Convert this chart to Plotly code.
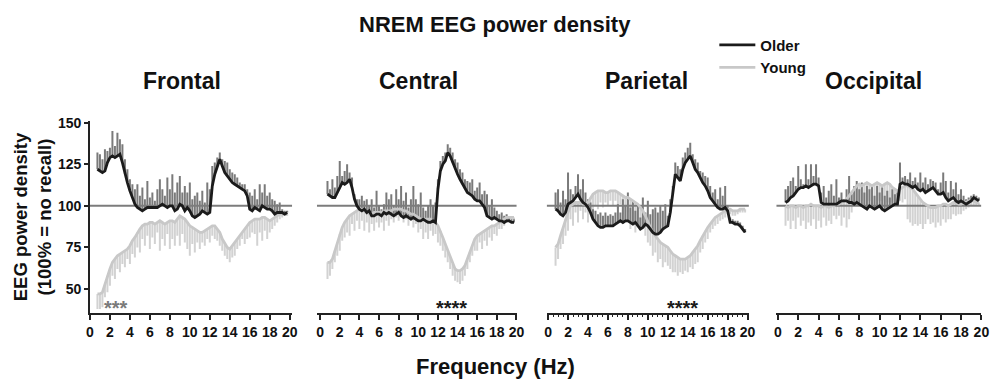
import numpy as np
import plotly.graph_objects as go

# ---------------------------------------------------------------------------
# Relative NREM EEG power density (% of the no-recall condition), 0.25 Hz bins
# ---------------------------------------------------------------------------
FREQ_HZ = np.arange(0.75, 19.76, 0.25)

REGIONS = ["Frontal", "Central", "Parietal", "Occipital"]

# Frontal
FRONTAL_OLDER = [
    122,
    121, 120, 121, 126,
    129, 130, 129, 130,
    131, 126, 119, 114,
    109, 105, 101, 99,
    98, 97, 98, 99,
    99, 99, 99, 99,
    100, 101, 100, 99,
    100, 100, 97, 98,
    101, 100, 97, 99,
    97, 94, 93, 94,
    95, 97, 96, 95,
    96, 112, 119, 124,
    128, 124, 120, 118,
    116, 114, 113, 112,
    111, 110, 109, 106,
    98, 97, 99, 98,
    97, 100, 99, 98,
    98, 97, 95, 96,
    96, 96, 95, 96,
]
FRONTAL_OLDER_SEM = [
    10,
    10, 8, 13, 7,
    6, 15, 7, 14,
    9, 11, 9, 8,
    7, 8, 9, 14,
    8, 14, 6, 16,
    6, 9, 4, 11,
    16, 9, 6, 18,
    10, 19, 11, 16,
    17, 8, 15, 9,
    17, 10, 13, 14,
    8, 12, 6, 19,
    14, 12, 7, 5,
    4, 4, 7, 8,
    6, 6, 6, 5,
    3, 3, 4, 4,
    10, 9, 11, 6,
    16, 8, 14, 8,
    10, 7, 8, 5,
    6, 2, 2, 1,
]
FRONTAL_YOUNG = [
    47,
    47, 48, 53, 58,
    62, 66, 68, 70,
    71, 72, 73, 74,
    76, 79, 81, 84,
    86, 88, 89, 89,
    90, 90, 89, 90,
    91, 90, 89, 90,
    91, 91, 90, 92,
    94, 93, 92, 90,
    88, 87, 86, 85,
    84, 84, 85, 86,
    87, 88, 88, 86,
    84, 80, 77, 75,
    74, 76, 78, 80,
    82, 84, 86, 88,
    90, 91, 92, 92,
    92, 93, 93, 92,
    91, 92, 93, 94,
    95, 95, 95, 95,
]
FRONTAL_YOUNG_SEM = [
    9,
    9, 9, 8, 10,
    10, 8, 12, 8,
    11, 7, 10, 6,
    11, 8, 12, 9,
    14, 8, 13, 7,
    16, 9, 12, 6,
    18, 10, 13, 7,
    17, 11, 14, 10,
    18, 10, 14, 16,
    18, 10, 14, 7,
    10, 6, 9, 6,
    9, 6, 8, 7,
    8, 7, 7, 7,
    8, 7, 8, 6,
    6, 4, 9, 8,
    9, 7, 9, 16,
    8, 14, 8, 12,
    7, 6, 5, 4,
    3, 2, 1, 1,
]

# Central
CENTRAL_OLDER = [
    107,
    106, 105, 105, 108,
    112, 114, 113, 114,
    116, 111, 104, 100,
    98, 97, 98, 96,
    97, 94, 94, 95,
    95, 94, 96, 95,
    96, 95, 94, 95,
    96, 94, 93, 94,
    93, 92, 93, 92,
    91, 91, 92, 91,
    90, 90, 91, 90,
    110, 121, 125, 127,
    132, 130, 126, 122,
    119, 116, 113, 110,
    108, 107, 106, 104,
    103, 103, 101, 99,
    94, 93, 92, 93,
    92, 91, 91, 90,
    91, 91, 90, 90,
]
CENTRAL_OLDER_SEM = [
    8,
    4, 11, 6, 10,
    15, 4, 8, 11,
    4, 6, 3, 4,
    6, 9, 5, 8,
    3, 10, 5, 14,
    5, 4, 5, 13,
    8, 12, 6, 15,
    8, 18, 10, 14,
    6, 12, 19, 12,
    10, 17, 7, 6,
    10, 14, 9, 12,
    6, 6, 5, 5,
    5, 5, 6, 6,
    7, 6, 7, 6,
    7, 7, 10, 5,
    8, 11, 6, 10,
    13, 7, 12, 6,
    5, 4, 5, 4,
    4, 2, 2, 2,
]
CENTRAL_YOUNG = [
    66,
    66, 68, 73, 78,
    83, 87, 90, 92,
    94, 95, 96, 97,
    98, 98, 97, 96,
    95, 95, 96, 96,
    96, 96, 97, 97,
    97, 97, 98, 98,
    98, 98, 97, 97,
    96, 95, 95, 94,
    93, 92, 92, 92,
    92, 92, 91, 90,
    88, 85, 81, 77,
    73, 69, 65, 62,
    61, 61, 62, 64,
    68, 72, 76, 80,
    82, 83, 84, 85,
    86, 87, 88, 88,
    89, 90, 91, 92,
    93, 93, 93, 93,
]
CENTRAL_YOUNG_SEM = [
    10,
    8, 6, 7, 8,
    10, 8, 9, 8,
    12, 6, 11, 6,
    12, 7, 12, 6,
    11, 6, 11, 6,
    9, 6, 12, 6,
    9, 5, 8, 5,
    7, 5, 7, 5,
    8, 4, 8, 5,
    9, 6, 12, 8,
    12, 7, 9, 7,
    10, 9, 8, 8,
    7, 7, 7, 7,
    7, 8, 7, 6,
    6, 6, 6, 7,
    9, 5, 10, 6,
    10, 6, 9, 5,
    7, 4, 5, 4,
    3, 2, 1, 1,
]

# Parietal
PARIETAL_OLDER = [
    98,
    97, 95, 94, 96,
    101, 102, 103, 105,
    107, 104, 102, 101,
    99, 96, 92, 90,
    88, 87, 87, 88,
    88, 88, 88, 89,
    90, 91, 90, 91,
    91, 90, 89, 90,
    88, 86, 87, 89,
    88, 86, 84, 83,
    83, 84, 86, 87,
    88, 96, 107, 119,
    117, 115, 122, 126,
    128, 130, 126, 122,
    120, 117, 114, 112,
    109, 105, 103, 101,
    99, 98, 98, 99,
    97, 90, 90, 89,
    89, 88, 86, 84,
]
PARIETAL_OLDER_SEM = [
    10,
    13, 7, 15, 8,
    19, 8, 4, 7,
    12, 6, 14, 7,
    5, 6, 6, 7,
    7, 9, 7, 8,
    6, 7, 6, 7,
    11, 5, 14, 9,
    17, 9, 14, 7,
    13, 7, 18, 7,
    15, 9, 14, 16,
    13, 16, 11, 14,
    6, 8, 5, 7,
    7, 7, 7, 6,
    7, 8, 5, 6,
    6, 4, 6, 6,
    8, 7, 5, 9,
    5, 13, 8, 13,
    3, 3, 2, 2,
    2, 2, 2, 2,
]
PARIETAL_YOUNG = [
    75,
    77, 82, 87, 92,
    96, 100, 101, 102,
    102, 102, 101, 101,
    102, 105, 107, 108,
    109, 109, 109, 108,
    108, 109, 109, 109,
    108, 107, 106, 105,
    105, 104, 103, 102,
    101, 99, 97, 94,
    90, 87, 84, 82,
    80, 78, 77, 76,
    75, 73, 71, 70,
    69, 68, 68, 68,
    69, 70, 72, 74,
    76, 79, 82, 85,
    87, 89, 91, 93,
    94, 95, 96, 97,
    98, 98, 97, 97,
    97, 98, 98, 98,
]
PARIETAL_YOUNG_SEM = [
    11,
    9, 8, 10, 10,
    11, 8, 13, 6,
    12, 5, 9, 5,
    12, 7, 11, 8,
    11, 7, 10, 6,
    8, 6, 9, 6,
    10, 6, 11, 13,
    9, 18, 13, 18,
    9, 13, 9, 12,
    12, 11, 14, 10,
    14, 10, 14, 10,
    11, 11, 11, 10,
    11, 8, 9, 7,
    9, 7, 10, 9,
    10, 7, 8, 7,
    7, 5, 5, 5,
    5, 4, 4, 4,
    3, 3, 3, 3,
    2, 2, 2, 2,
]

# Occipital
OCCIPITAL_OLDER = [
    102,
    103, 105, 106, 108,
    110, 111, 111, 112,
    111, 112, 113, 113,
    112, 102, 101, 101,
    101, 101, 101, 101,
    102, 103, 103, 103,
    102, 102, 101, 102,
    101, 100, 99, 98,
    100, 99, 98, 99,
    100, 98, 97, 98,
    99, 100, 101, 101,
    113, 114, 113, 113,
    112, 111, 112, 110,
    109, 110, 108, 109,
    110, 111, 109, 107,
    107, 108, 105, 103,
    104, 105, 103, 102,
    103, 102, 101, 102,
    103, 105, 104, 103,
]
OCCIPITAL_OLDER_SEM = [
    8,
    9, 10, 11, 4,
    14, 5, 2, 13,
    5, 13, 5, 12,
    5, 6, 11, 4,
    8, 12, 5, 15,
    3, 5, 1, 7,
    16, 5, 11, 13,
    9, 14, 9, 14,
    10, 14, 8, 13,
    8, 13, 9, 11,
    6, 10, 6, 7,
    13, 3, 5, 3,
    8, 4, 5, 4,
    11, 4, 9, 4,
    6, 4, 5, 3,
    7, 12, 10, 5,
    11, 5, 11, 5,
    7, 4, 3, 3,
    3, 2, 2, 2,
]
OCCIPITAL_YOUNG = [
    100,
    99, 100, 100, 99,
    100, 100, 99, 100,
    100, 101, 100, 100,
    100, 99, 100, 100,
    99, 100, 100, 101,
    101, 102, 103, 104,
    106, 108, 110, 112,
    113, 112, 113, 114,
    113, 112, 113, 114,
    113, 112, 113, 114,
    113, 111, 110, 109,
    110, 111, 112, 112,
    111, 110, 108, 106,
    104, 102, 101, 100,
    99, 99, 99, 100,
    100, 101, 101, 100,
    101, 102, 102, 101,
    101, 102, 102, 103,
    103, 103, 102, 102,
]
OCCIPITAL_YOUNG_SEM = [
    12,
    8, 14, 9, 13,
    7, 12, 8, 14,
    10, 13, 8, 14,
    9, 12, 7, 12,
    8, 11, 6, 9,
    7, 14, 10, 17,
    14, 12, 10, 11,
    12, 9, 12, 11,
    10, 9, 12, 11,
    10, 9, 12, 12,
    11, 9, 10, 8,
    7, 9, 8, 20,
    21, 22, 19, 18,
    15, 16, 12, 8,
    10, 9, 12, 10,
    12, 9, 11, 8,
    9, 7, 8, 6,
    6, 5, 4, 4,
    3, 3, 2, 2,
]

BASELINE = 100  # 100 % = no-recall condition

# significance markers: (panel index, text, frequency, level, colour)
SIGNIFICANCE = [
    (0, "***", 2.6, 38.5, "#7a7a7a"),
    (1, "****", 13.4, 38.5, "#1a1a1a"),
    (2, "****", 13.5, 38.5, "#1a1a1a"),
]

X_TICKS = list(range(0, 21, 2))
Y_TICKS = [50, 75, 100, 125, 150]

# ---------------------------------------------------------------------------
# Layout geometry (pixels of the 995 x 381 canvas)
# ---------------------------------------------------------------------------
W, H = 995, 381
PANEL_X_PX = [(87, 291.7), (316.7, 519), (549.3, 754), (781.7, 989.3)]
PANEL_X_RANGE = [(0, 20.25), (-0.33, 20.03), (-0.14, 20.13), (-0.16, 20.0)]
PANEL_TITLE_X_PX = [180, 420, 650, 880]
Y_PX = (116.7, 312)
Y_RANGE = (35.5, 151.1)

OLDER_LINE = "#1b1b1b"
OLDER_BAR = "#7a7a7a"
YOUNG_LINE = "#c8c8c8"
YOUNG_BAR = "#d2d2d2"
BASE_LINE = "#7c7c7c"
AXIS_COL = "#222222"
FONT = "Liberation Sans, Arial, Helvetica, sans-serif"


def fx(p):
    return p / W


def fy(p):
    return 1 - p / H


series = {
    "Frontal": (FRONTAL_OLDER, FRONTAL_OLDER_SEM, FRONTAL_YOUNG, FRONTAL_YOUNG_SEM),
    "Central": (CENTRAL_OLDER, CENTRAL_OLDER_SEM, CENTRAL_YOUNG, CENTRAL_YOUNG_SEM),
    "Parietal": (PARIETAL_OLDER, PARIETAL_OLDER_SEM, PARIETAL_YOUNG, PARIETAL_YOUNG_SEM),
    "Occipital": (OCCIPITAL_OLDER, OCCIPITAL_OLDER_SEM, OCCIPITAL_YOUNG, OCCIPITAL_YOUNG_SEM),
}
for name, arrs in series.items():
    for a in arrs:
        assert len(a) == len(FREQ_HZ), (name, len(a))

fig = go.Figure()
zeros = [0] * len(FREQ_HZ)

for i, region in enumerate(REGIONS):
    older, older_sem, young, young_sem = series[region]
    xa = "x" if i == 0 else f"x{i + 1}"
    ya = "y" if i == 0 else f"y{i + 1}"
    first = i == 0

    # young: SEM bars pointing down
    fig.add_trace(go.Scatter(
        x=FREQ_HZ, y=young, mode="markers", xaxis=xa, yaxis=ya,
        marker=dict(size=1, color="rgba(0,0,0,0)"), showlegend=False, hoverinfo="skip",
        error_y=dict(type="data", symmetric=False, array=zeros, arrayminus=young_sem,
                     color=YOUNG_BAR, thickness=2, width=0),
    ))
    # older: SEM bars pointing up
    fig.add_trace(go.Scatter(
        x=FREQ_HZ, y=older, mode="markers", xaxis=xa, yaxis=ya,
        marker=dict(size=1, color="rgba(0,0,0,0)"), showlegend=False, hoverinfo="skip",
        error_y=dict(type="data", symmetric=False, array=older_sem, arrayminus=zeros,
                     color=OLDER_BAR, thickness=2, width=0),
    ))
    # 100 % reference line
    fig.add_trace(go.Scatter(
        x=list(PANEL_X_RANGE[i]), y=[BASELINE, BASELINE], mode="lines", xaxis=xa, yaxis=ya,
        line=dict(color=BASE_LINE, width=2), showlegend=False, hoverinfo="skip",
    ))
    # group means
    fig.add_trace(go.Scatter(
        x=FREQ_HZ, y=young, mode="lines", xaxis=xa, yaxis=ya, name="Young",
        line=dict(color=YOUNG_LINE, width=2.8), showlegend=first, legendrank=2,
    ))
    fig.add_trace(go.Scatter(
        x=FREQ_HZ, y=older, mode="lines", xaxis=xa, yaxis=ya, name="Older",
        line=dict(color=OLDER_LINE, width=2.8), showlegend=first, legendrank=1,
    ))

layout = dict(
    width=W, height=H,
    margin=dict(l=0, r=0, t=0, b=0),
    paper_bgcolor="white", plot_bgcolor="rgba(0,0,0,0)",
    font=dict(family=FONT, color="#111111", size=14),
    legend=dict(x=fx(719), y=fy(23), xanchor="left", yanchor="top",
                bgcolor="rgba(0,0,0,0)", font=dict(size=15, family=FONT, weight="bold"),
                tracegroupgap=0, itemwidth=36, traceorder="normal"),
)

for i in range(4):
    sfx = "" if i == 0 else str(i + 1)
    x0, x1 = PANEL_X_PX[i]
    layout[f"xaxis{sfx}"] = dict(
        domain=[fx(x0), fx(x1)], range=list(PANEL_X_RANGE[i]), anchor=f"y{sfx}",
        showgrid=False, zeroline=False, showline=True, linecolor=AXIS_COL, linewidth=1.6,
        ticks="outside", ticklen=5, tickwidth=1.5, tickcolor=AXIS_COL,
        tickvals=X_TICKS, ticktext=[str(v) for v in X_TICKS],
        tickfont=dict(size=14, family=FONT, weight="bold", color="#111111"),
    )
    if i == 2:
        layout[f"xaxis{sfx}"]["minor"] = dict(dtick=0.5, ticklen=2, tickwidth=1,
                                              tickcolor=AXIS_COL, ticks="outside")
    ydict = dict(
        domain=[fy(Y_PX[1]), fy(Y_PX[0])], range=list(Y_RANGE), anchor=f"x{sfx}",
        showgrid=False, zeroline=False,
    )
    if i == 0:
        ydict.update(showline=True, linecolor=AXIS_COL, linewidth=1.6,
                     ticks="outside", ticklen=4, tickwidth=1.5, tickcolor=AXIS_COL,
                     tickvals=Y_TICKS, tickfont=dict(size=14, family=FONT, weight="bold",
                                                     color="#111111"))
    else:
        ydict.update(visible=False)
    layout[f"yaxis{sfx}"] = ydict

fig.update_layout(**layout)

annotations = [
    dict(text="NREM EEG power density", x=fx(497), y=fy(19), font=dict(size=22)),
    dict(text="Frequency (Hz)", x=fx(497), y=fy(366), font=dict(size=22)),
    dict(text="EEG power density<br>(100% = no recall)", x=fx(29), y=fy(214),
         textangle=-90, font=dict(size=18.5)),
]
for i, region in enumerate(REGIONS):
    annotations.append(dict(text=region, x=fx(PANEL_TITLE_X_PX[i]), y=fy(76), font=dict(size=23)))
for a in annotations:
    a.update(xref="paper", yref="paper", showarrow=False, xanchor="center", yanchor="middle")
    a["font"].update(family=FONT, weight="bold", color="#111111")
    fig.add_annotation(**a)

for panel, txt, f, lvl, col in SIGNIFICANCE:
    xa = "x" if panel == 0 else f"x{panel + 1}"
    ya = "y" if panel == 0 else f"y{panel + 1}"
    fig.add_annotation(text=txt, x=f, y=lvl, xref=xa, yref=ya, showarrow=False,
                       xanchor="center", yanchor="middle",
                       font=dict(size=20, family=FONT, weight="bold", color=col))

fig.write_html("out.html")
